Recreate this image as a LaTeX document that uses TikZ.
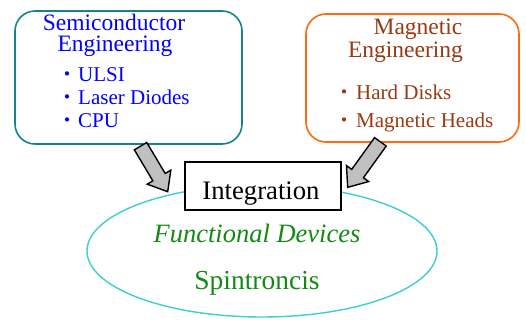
\documentclass[tikz,border=0pt]{standalone}
\usepackage{fontspec}
\setmainfont{Liberation Serif}
\newfontfamily\cjk{Noto Sans CJK JP}
\usetikzlibrary{shapes.geometric,shapes.arrows}
\definecolor{semiteal}{HTML}{138585}
\definecolor{magorange}{HTML}{FF6A10}
\definecolor{ellcyan}{HTML}{3CCFCF}
\definecolor{magbrown}{HTML}{9A3A12}
\definecolor{devgreen}{HTML}{148A14}
\definecolor{arrowgray}{HTML}{C0C0C0}
\begin{document}
\begin{tikzpicture}[x=1pt,y=-1pt,
  field/.style={draw, line width=1.6pt, rounded corners=20pt, fill=white, inner sep=0pt},
  semitxt/.style={text=blue, font=\fontsize{23.5}{26}\selectfont, anchor=base, inner sep=0pt},
  semiitem/.style={text=blue, font=\fontsize{21}{24}\selectfont, anchor=base west, inner sep=0pt},
  magtxt/.style={text=magbrown, font=\fontsize{23.5}{26}\selectfont, anchor=base, inner sep=0pt},
  magitem/.style={text=magbrown, font=\fontsize{21}{24}\selectfont, anchor=base west, inner sep=0pt},
  dotmark/.style={font=\cjk\fontsize{20}{24}\selectfont, anchor=base, inner sep=0pt},
  blockarrow/.style={single arrow, draw=black, line width=1.4pt, fill=arrowgray,
    inner sep=6.5pt, single arrow head extend=6.5pt, single arrow tip angle=78,
    anchor=tip, outer sep=0pt},
  devtxt/.style={text=devgreen, anchor=base, inner sep=0pt}]
\useasboundingbox (0,0) rectangle (526,320);

% ellipse
\node[ellipse, draw=ellcyan, line width=1.4pt, minimum width=350pt, minimum height=132pt, inner sep=0pt] (dev) at (262,251) {};

% boxes
\node[field, draw=semiteal, minimum width=227pt, minimum height=133pt] (semi) at (128.5,77.5) {};
\node[field, draw=magorange, minimum width=213pt, minimum height=128pt] (mag) at (412.5,78) {};

\node[semitxt] (s1) at (114,31) {Semiconductor};
\node[semitxt] (s2) at (115,52) {Engineering};
\node[dotmark, text=blue] (d3) at (67,82) {・};
\node[dotmark, text=blue] (d4) at (67,105) {・};
\node[dotmark, text=blue] (d5) at (67,128) {・};
\node[semiitem] (s3) at (78,82) {ULSI};
\node[semiitem] (s4) at (78,105) {Laser Diodes};
\node[semiitem] (s5) at (78,128) {CPU};

\node[magtxt] (m1) at (418,35) {Magnetic};
\node[magtxt] (m2) at (405.5,58) {Engineering};
\node[dotmark, text=magbrown] (d6) at (344,100) {・};
\node[dotmark, text=magbrown] (d7) at (344,128) {・};
\node[magitem] (m3) at (356,100) {Hard Disks};
\node[magitem] (m4) at (356,128) {Magnetic Heads};

% arrows
\coordinate (ltip) at (167.7,191.7);
\coordinate (rtip) at (347.7,187.3);
\node[blockarrow, minimum height=53pt, rotate=-59.2] (larrow) at (ltip) {};
\node[blockarrow, minimum height=56pt, rotate=-125.7] (rarrow) at (rtip) {};

% integration
\node[draw=black, line width=1.5pt, fill=white, minimum width=156pt, minimum height=48pt, inner sep=0pt] (intbox) at (263,186) {};
\node[anchor=base, inner sep=0pt, font=\fontsize{26.7}{30}\selectfont] (integ) at (261,199) {Integration};

\node[devtxt, font=\itshape\fontsize{26.5}{30}\selectfont] (func) at (257,242) {Functional Devices};
\node[devtxt, font=\fontsize{27.5}{30}\selectfont] (spin) at (257,289) {Spintroncis};
\end{tikzpicture}
\end{document}
